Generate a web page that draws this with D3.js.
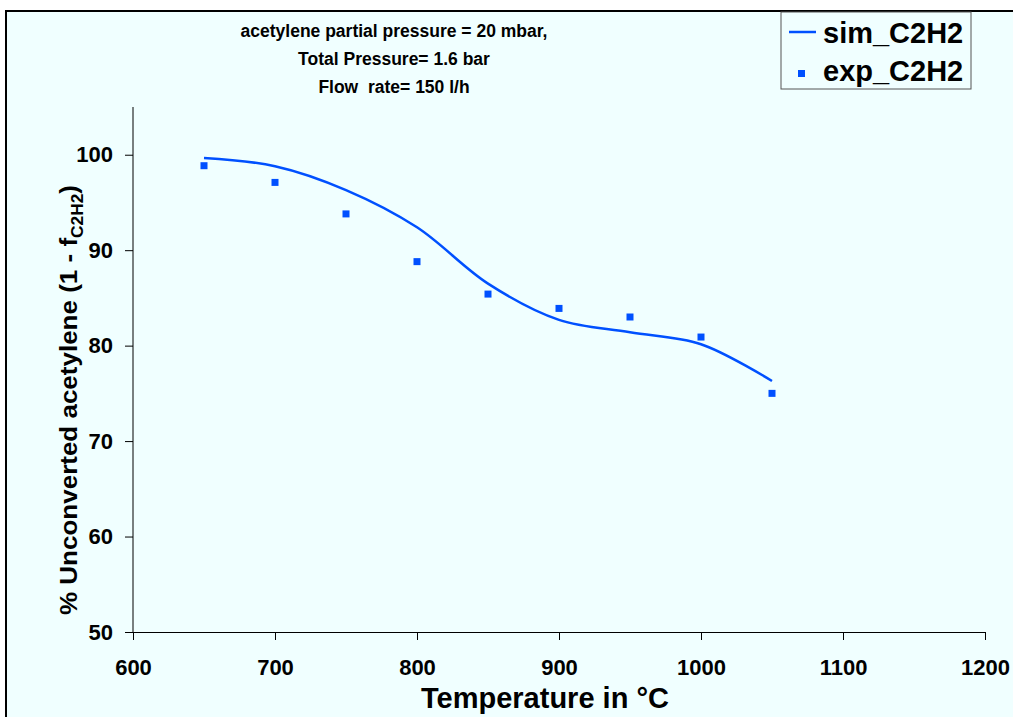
<!DOCTYPE html>
<html>
<head>
<meta charset="utf-8">
<script src="https://cdn.jsdelivr.net/npm/d3@7"></script>
<style>
  body { margin: 0; background: #fff; }
  text { font-family: "Liberation Sans", Arial, sans-serif; font-weight: bold; fill: #000; }
</style>
</head>
<body>
<div class="container"></div>
<script>
// data
var temps = [650, 700, 750, 800, 850, 900, 950, 1000, 1050];
var simC2H2 = [99.65, 98.8, 96.3, 92.4, 86.5, 82.7, 81.4, 80.15, 76.3];
var expC2H2 = [98.85, 97.1, 93.8, 88.8, 85.4, 83.9, 83.0, 80.9, 75.0];
var xTicks = [600, 700, 800, 900, 1000, 1100, 1200];
var yTicks = [50, 60, 70, 80, 90, 100];
var titleLines = ['acetylene partial pressure = 20 mbar,', 'Total Pressure= 1.6 bar', 'Flow  rate= 150 l/h'];
var legendNames = ['sim_C2H2', 'exp_C2H2'];

var W = 1013, H = 717;
var blue = '#0050ff';

var svg = d3.select('.container').append('svg')
	.attr('width', W)
	.attr('height', H);

// chart frame
svg.append('rect')
	.attr('x', 6).attr('y', 11)
	.attr('width', W + 10).attr('height', H + 10)
	.style('fill', '#f0ffff')
	.style('stroke', '#000')
	.style('stroke-width', 2);

var x = d3.scaleLinear().domain([600, 1200]).range([133, 985]);
var y = d3.scaleLinear().domain([50, 105]).range([632, 107]);

// axes
var xAxis = svg.append('g')
	.attr('transform', 'translate(0,' + y(50) + ')')
	.call(d3.axisBottom(x).tickValues(xTicks).tickFormat(d3.format('d')).tickSize(8).tickPadding(19).tickSizeOuter(0));
var yAxis = svg.append('g')
	.attr('transform', 'translate(' + x(600) + ',0)')
	.call(d3.axisLeft(y).tickValues(yTicks).tickFormat(d3.format('d')).tickSize(8).tickPadding(12).tickSizeOuter(0));

[xAxis, yAxis].forEach(function(ax){
	ax.select('.domain').style('stroke', '#000').style('stroke-width', 1);
	ax.selectAll('.tick line').style('stroke', '#000');
	ax.selectAll('.tick text')
		.style('font-family', '"Liberation Sans", Arial, sans-serif')
		.style('font-weight', 'bold')
		.style('font-size', '22px')
		.style('fill', '#000');
});
// y axis line goes up to the top of the plot area
yAxis.select('.domain').attr('d', 'M0,' + y(105) + 'V' + y(50));

// axis titles
svg.append('text')
	.attr('x', 545)
	.attr('y', 708)
	.attr('text-anchor', 'middle')
	.style('font-size', '29px')
	.text('Temperature in \u00b0C');

var yt = svg.append('text')
	.attr('transform', 'translate(77,' + 400 + ') rotate(-90)')
	.attr('text-anchor', 'middle')
	.attr('textLength', 430)
	.attr('lengthAdjust', 'spacingAndGlyphs')
	.style('font-size', '24px');
yt.append('tspan').text('% Unconverted acetylene (1 - f');
yt.append('tspan').attr('dy', 6).style('font-size', '16px').text('C2H2');
yt.append('tspan').attr('dy', -6).text(')');

// title
svg.selectAll('.title').data(titleLines).enter().append('text')
	.attr('class', 'title')
	.attr('x', 394)
	.attr('y', function(d, i){ return 37 + i * 28; })
	.attr('text-anchor', 'middle')
	.style('font-size', '17.5px')
	.attr('xml:space', 'preserve')
	.text(function(d){ return d; });

// sim line
var simData = temps.map(function(t, i){ return {t: t, v: simC2H2[i]}; });
var line = d3.line()
	.x(function(d){ return x(d.t); })
	.y(function(d){ return y(d.v); })
	.curve(d3.curveCatmullRom.alpha(0.5));
svg.append('path')
	.datum(simData)
	.attr('d', line)
	.style('fill', 'none')
	.style('stroke', blue)
	.style('stroke-width', 2.5);

// exp markers
var expData = temps.map(function(t, i){ return {t: t, v: expC2H2[i]}; });
svg.selectAll('.pt').data(expData).enter().append('rect')
	.attr('class', 'pt')
	.attr('x', function(d){ return x(d.t) - 3.5; })
	.attr('y', function(d){ return y(d.v) - 3.5; })
	.attr('width', 7).attr('height', 7)
	.style('fill', blue);

// legend
var lg = svg.append('g');
lg.append('rect')
	.attr('x', 781).attr('y', 12)
	.attr('width', 190).attr('height', 77)
	.style('fill', '#f0ffff')
	.style('stroke', '#555')
	.style('stroke-width', 1);
lg.append('line')
	.attr('x1', 789).attr('x2', 816)
	.attr('y1', 32).attr('y2', 32)
	.style('stroke', blue).style('stroke-width', 2.5);
lg.append('rect')
	.attr('x', 798).attr('y', 70)
	.attr('width', 7).attr('height', 7)
	.style('fill', blue);
lg.selectAll('.lt').data(legendNames).enter().append('text')
	.attr('class', 'lt')
	.attr('x', 823)
	.attr('y', function(d, i){ return 43 + i * 38; })
	.style('font-size', '29px')
	.text(function(d){ return d; });
</script>
</body>
</html>
